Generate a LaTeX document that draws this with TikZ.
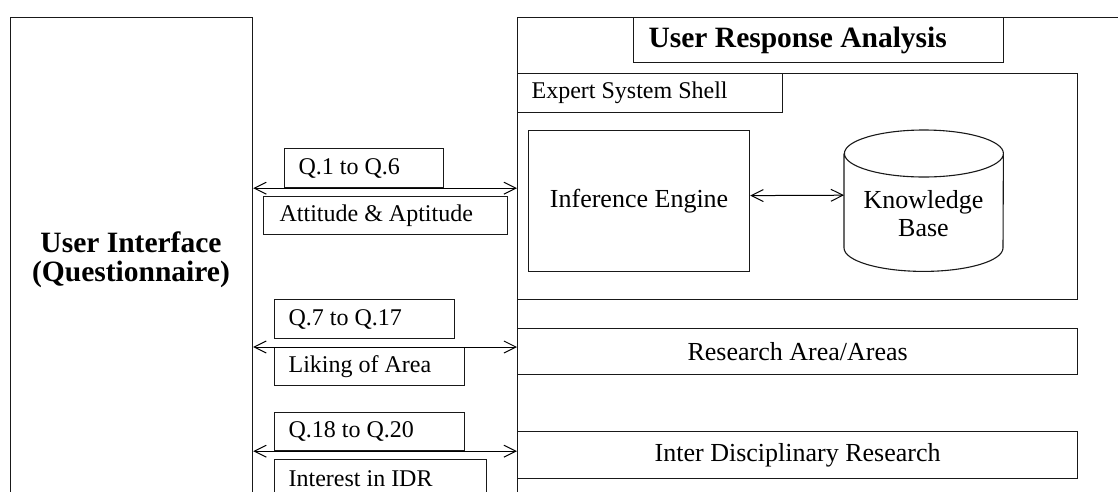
\documentclass[tikz,border=0pt]{standalone}
\usepackage{fontspec}
\setmainfont{Liberation Serif}
\usetikzlibrary{arrows.meta}
\newcommand\fA{\fontsize{24}{28}\selectfont}
\newcommand\fB{\fontsize{26}{28}\selectfont}
\newcommand\fC{\fontsize{29.5}{29}\selectfont}
\begin{document}
\begin{tikzpicture}[x=1pt,y=-1pt,
  box/.style={draw=black!90, line width=1.2pt, inner sep=0pt, anchor=north west},
  lab/.style={box, align=flush left, font=\fA},
  arr/.style={line width=1pt, {Straight Barb[length=12pt,width=12pt]}-{Straight Barb[length=12pt,width=12pt]}}]
\useasboundingbox (0,0) rectangle (1118,491);
\clip (0,0) rectangle (1118,491);
% main frames
\node[box, minimum width=242, minimum height=520] (ui) at (10,17) {};
\node[font=\fC\bfseries, align=center] (uitext) at (131,260) {User Interface\\(Questionnaire)};
\node[box, minimum width=650, minimum height=520] (ura) at (517,17) {};
\node[box, minimum width=370, minimum height=45, text width=340, inner xsep=15, align=flush left, font=\fC\bfseries] (title) at (633,17) {User Response Analysis};
% expert system shell
\node[box, minimum width=560, minimum height=226] (ess) at (517,73) {};
\node[box, minimum width=265, minimum height=39, text width=237, inner xsep=14, align=flush left, font=\fA] (esslabel) at (517,73) {Expert System Shell};
\node[box, minimum width=221, minimum height=141, font=\fB] (ie) at (528,130) {Inference Engine};
\node[inner sep=0pt, minimum width=159, minimum height=141, anchor=north west] (kb) at (844,130) {};
\draw[line width=1.1pt, draw=black!90] ([yshift=-23.5pt]kb.north west) -- ([yshift=23.5pt]kb.south west)
   arc[start angle=180, end angle=0, x radius=79.5, y radius=23.5]
   -- ([yshift=-23.5pt]kb.north east)
   arc[start angle=0, end angle=360, x radius=79.5, y radius=23.5];
\node[font=\fB, align=center] (kbtext) at (923.5,213.5) {Knowledge\\Base};
\draw[arr] ([yshift=5.5pt]ie.east) -- ([yshift=5.5pt]kb.west);
% result boxes
\node[box, minimum width=560, minimum height=46, font=\fB] (ra) at (517,328) {Research Area/Areas};
\node[box, minimum width=560, minimum height=47, font=\fB] (idr) at (517,431) {Inter Disciplinary Research};
% question labels
\node[lab, minimum width=159, minimum height=39, text width=131, inner xsep=14] (q1) at (284,148) {Q.1 to Q.6};
\node[lab, minimum width=244, minimum height=38, text width=212, inner xsep=16] (att) at (263,196) {Attitude \& Aptitude};
\node[lab, minimum width=180, minimum height=39, text width=152, inner xsep=14] (q7) at (274,299) {Q.7 to Q.17};
\node[lab, minimum width=190, minimum height=38, text width=162, inner xsep=14] (like) at (274,347) {Liking of Area};
\node[lab, minimum width=190, minimum height=38, text width=162, inner xsep=14] (q18) at (274,412) {Q.18 to Q.20};
\node[lab, minimum width=212, minimum height=39, text width=184, inner xsep=14] (int) at (274,459) {Interest in IDR};
% connectors
\draw[arr] (ui.east |- q1.south) -- (ura.west |- q1.south);
\draw[arr] (ui.east |- like.north) -- (ura.west |- like.north);
\draw[arr] (ui.east |- q18.south) -- (ura.west |- q18.south);
\end{tikzpicture}
\end{document}
